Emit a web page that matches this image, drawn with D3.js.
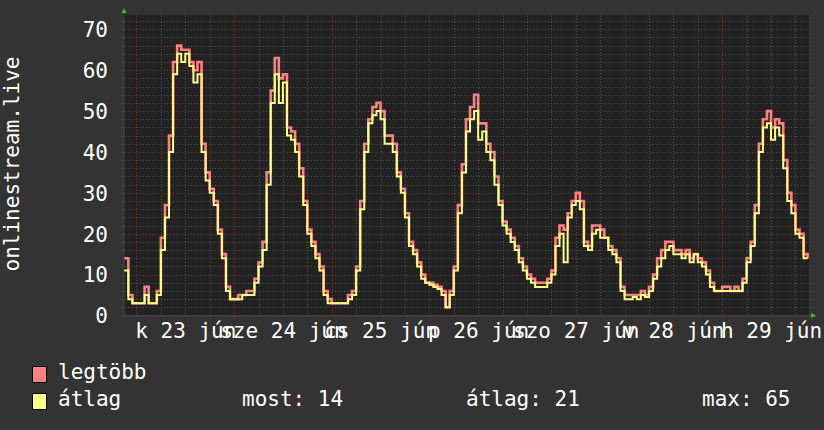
<!DOCTYPE html>
<html>
<head>
<meta charset="utf-8">
<script src="https://cdn.jsdelivr.net/npm/d3@7"></script>
<style>
  body { margin: 0; background: #333333; }
  text { font-family: "DejaVu Sans Mono", monospace; fill: #ffffff; }
</style>
</head>
<body>
<script>
// hourly samples, starting Jun 22 21:00
var maxValues = [
  14, 5, 3,
  3, 3, 7, 3, 3, 6, 19, 27, 44, 62, 66, 65, 65, 62, 60, 62, 42, 35, 31, 28, 21, 15, 7, 4,
  4, 5, 5, 6, 6, 9, 13, 18, 35, 55, 63, 58, 59, 46, 45, 42, 36, 28, 21, 18, 15, 12, 6, 4,
  3, 3, 3, 3, 5, 6, 12, 28, 42, 48, 51, 52, 50, 44, 44, 42, 35, 31, 25, 18, 16, 13, 10, 8,
  8, 7.5, 7, 6, 2, 6, 12, 27, 37, 48, 51, 54, 47, 47, 42, 40, 34, 28, 23, 21, 19, 17, 14, 12,
  10, 9, 8, 8, 8, 9, 11, 19, 22, 21, 25, 28, 30, 28, 18, 17, 22, 22, 21, 19, 17, 16, 14, 7,
  5, 5, 5, 5, 6, 5, 7, 10, 14, 16, 18, 18, 16, 16, 15, 16, 14, 15, 14, 13, 11, 8, 6, 6,
  7, 7, 6, 7, 6, 9, 14, 18, 27, 42, 48, 50, 46, 48, 47, 38, 30, 27, 21, 20, 15, 14
];
var avgValues = [
  11, 4, 3,
  3, 3, 5, 3, 3, 5, 16, 24, 40, 59, 64, 62, 64, 61, 57, 59, 40, 33, 30, 27, 20, 14, 6, 4,
  4, 4, 5, 5, 5, 8, 12, 16, 32, 52, 59, 52, 57, 44, 43, 40, 34, 27, 20, 17, 14, 11, 5, 3,
  3, 3, 3, 3, 4, 5, 11, 26, 40, 47, 49, 50, 48, 42, 42, 40, 34, 30, 24, 17, 15, 12, 9, 8,
  7.5, 7, 6.5, 5, 2, 5, 11, 25, 35, 45, 48, 50, 43, 45, 40, 38, 32, 27, 22, 20, 18, 16, 13, 11,
  9, 8, 7, 7, 7, 8, 10, 17, 20, 13, 24, 27, 28, 26, 17, 16, 20, 21, 19, 19, 16, 15, 13, 6,
  4, 4, 4.5, 4, 5, 4.5, 6, 9, 12, 14, 16, 17, 15, 15, 14, 15, 13, 15, 13, 12, 10, 7, 6, 6,
  6, 6, 6, 6, 6, 8, 13, 17, 25, 40, 46, 47, 43, 46, 44, 36, 28, 25, 20, 19, 14, 14
];
var yTicks = [0, 10, 20, 30, 40, 50, 60, 70];
var shortDays = ["v", "h", "k", "sze", "cs", "p", "szo"];
var shortMonths = ["jan", "febr", "márc", "ápr", "máj", "jún", "júl", "aug", "szept", "okt", "nov", "dec"];
var legendNames = ["legtöbb", "átlag"];
var legendStats = ["most: 14", "átlag: 21", "max: 65"];
var yTitle = "onlinestream.live";

var w = 824, h = 430;
var plotL = 124, plotR = 809, plotT = 15, plotB = 315.5;

var hu = d3.timeFormatLocale({
    dateTime: "%Y. %B %-e., %A %X", date: "%Y. %m. %d.", time: "%H:%M:%S",
    periods: ["de.", "du."],
    days: ["vasárnap", "hétfő", "kedd", "szerda", "csütörtök", "péntek", "szombat"],
    shortDays: shortDays,
    months: ["január", "február", "március", "április", "május", "június", "július", "augusztus", "szeptember", "október", "november", "december"],
    shortMonths: shortMonths
});
var fmt = hu.format("%a %d %b");

var start = new Date(2020, 5, 22, 21, 0);
var times = maxValues.map(function(d, i) { return d3.timeHour.offset(start, i); });

var x = d3.scaleTime()
    .domain([new Date(2020, 5, 22, 20, 56), new Date(2020, 5, 29, 21, 20)])
    .range([plotL, plotR]);
var y = d3.scaleLinear().domain([0, 73.5]).range([plotB, plotT]);

var svg = d3.select("body").append("svg")
    .attr("width", w)
    .attr("height", h);

svg.append("rect").attr("width", w).attr("height", h).attr("fill", "#333333");
svg.append("rect")
    .attr("x", plotL).attr("y", plotT)
    .attr("width", plotR - plotL).attr("height", plotB - plotT)
    .attr("fill", "#222222");

// grid
var minorY = d3.range(0, 74, 2).filter(function(v) { return v % 10 != 0; });
svg.append("g").selectAll("line").data(minorY).enter().append("line")
    .attr("x1", plotL - 2).attr("x2", plotR + 2)
    .attr("y1", function(d) { return Math.round(y(d)) + 0.5; })
    .attr("y2", function(d) { return Math.round(y(d)) + 0.5; })
    .attr("stroke", "#555555").attr("stroke-dasharray", "1,2");
var sixHours = d3.timeHour.every(6).range(x.domain()[0], x.domain()[1])
    .filter(function(d) { return d.getHours() != 0; });
svg.append("g").selectAll("line").data(sixHours).enter().append("line")
    .attr("x1", function(d) { return Math.round(x(d)) + 0.5; })
    .attr("x2", function(d) { return Math.round(x(d)) + 0.5; })
    .attr("y1", plotT - 2).attr("y2", plotB)
    .attr("stroke", "#555555").attr("stroke-dasharray", "1,2");
svg.append("g").selectAll("line").data(yTicks).enter().append("line")
    .attr("x1", plotL - 2).attr("x2", plotR + 2)
    .attr("y1", function(d) { return Math.round(y(d)) + 0.5; })
    .attr("y2", function(d) { return Math.round(y(d)) + 0.5; })
    .attr("stroke", "#7a3a3a").attr("stroke-dasharray", "1,2");
var days = d3.timeDay.range(x.domain()[0], x.domain()[1]);
svg.append("g").selectAll("line").data(days).enter().append("line")
    .attr("x1", function(d) { return Math.round(x(d)) + 0.5; })
    .attr("x2", function(d) { return Math.round(x(d)) + 0.5; })
    .attr("y1", plotT - 2).attr("y2", plotB + 3)
    .attr("stroke", "#7a3a3a").attr("stroke-dasharray", "1,2");

// axis lines + arrows
svg.append("line").attr("x1", plotL - 3).attr("x2", plotR + 2)
    .attr("y1", plotB).attr("y2", plotB).attr("stroke", "#444444");
svg.append("line").attr("x1", plotL).attr("x2", plotL)
    .attr("y1", plotT - 3).attr("y2", plotB + 3).attr("stroke", "#444444");
svg.append("path").attr("d", "M" + (plotL - 2.5) + ",13L" + (plotL + 2.5) + ",13L" + plotL + ",8Z")
    .attr("fill", "#22cc22");
svg.append("path").attr("d", "M811," + (plotB - 2.5) + "L811," + (plotB + 2.5) + "L816," + plotB + "Z")
    .attr("fill", "#22cc22");

// lines
var line = function(vals) {
    return d3.line()
        .x(function(d, i) { return x(times[i]); })
        .y(function(d) { return y(d); })
        .curve(d3.curveStepAfter)(vals);
};
svg.append("path").attr("d", line(maxValues))
    .attr("fill", "none").attr("stroke", "#ff8080").attr("stroke-width", 2.6);
svg.append("path").attr("d", line(avgValues))
    .attr("fill", "none").attr("stroke", "#ffff80").attr("stroke-width", 2);

// axes
var yAxis = svg.append("g")
    .attr("transform", "translate(" + plotL + ",0)")
    .call(d3.axisLeft(y).tickValues(yTicks).tickSize(0).tickPadding(16));
yAxis.select(".domain").remove();
yAxis.selectAll("text").attr("font-size", 21).attr("font-family", null).attr("dy", "0.35em");

var noons = d3.timeDay.range(new Date(2020, 5, 23), new Date(2020, 5, 30))
    .map(function(d) { return d3.timeHour.offset(d, 12); });
var xAxis = svg.append("g")
    .attr("transform", "translate(0," + plotB + ")")
    .call(d3.axisBottom(x).tickValues(noons).tickFormat(fmt).tickSize(0).tickPadding(7.5));
xAxis.select(".domain").remove();
xAxis.selectAll("text").attr("font-size", 21).attr("font-family", null);

svg.append("text")
    .attr("transform", "translate(18.5,164) rotate(-90)")
    .attr("text-anchor", "middle")
    .attr("font-size", 21)
    .text(yTitle);

// legend
var colors = ["#ff8080", "#ffff80"];
var leg = svg.append("g").selectAll("g").data(legendNames).enter().append("g")
    .attr("transform", function(d, i) { return "translate(32," + (366 + i * 27) + ")"; });
leg.append("rect").attr("x", 0.5).attr("y", 0.5).attr("width", 14).attr("height", 16)
    .attr("fill", function(d, i) { return colors[i]; }).attr("stroke", "#000000");
leg.append("text").attr("x", 26).attr("y", 13).attr("font-size", 21).text(function(d) { return d; });

var statX = [242, 466, 702];
svg.append("g").selectAll("text").data(legendStats).enter().append("text")
    .attr("x", function(d, i) { return statX[i]; })
    .attr("y", 366 + 27 + 13)
    .attr("font-size", 21)
    .text(function(d) { return d; });
</script>
</body>
</html>
